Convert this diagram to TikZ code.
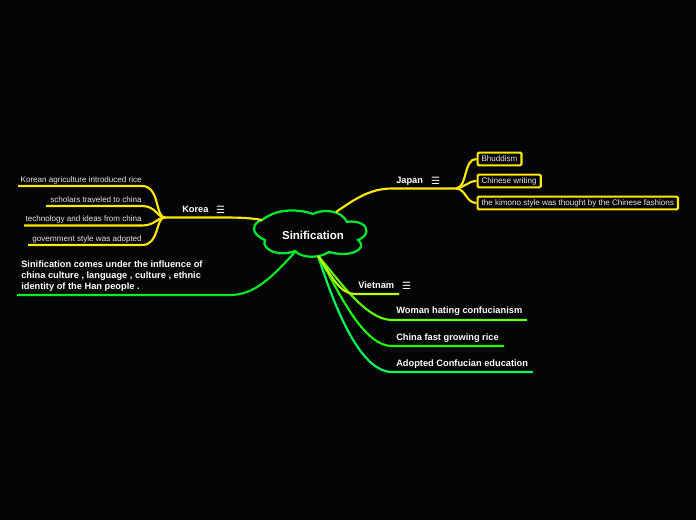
\documentclass[tikz,border=0pt]{standalone}
\usepackage{fontspec}
\setmainfont{Liberation Sans}
\newfontfamily\iconfont{DejaVu Sans}
\definecolor{bgblack}{HTML}{020406}
\definecolor{cloudgreen}{HTML}{00E632}
\definecolor{branchyellow}{HTML}{FFE800}
\definecolor{txtwhite}{HTML}{E8E8E8}
\tikzset{
  topic/.style={inner sep=0pt,text=white,font=\fontsize{6.95}{8}\selectfont\bfseries},
  small/.style={inner sep=0pt,text=txtwhite,font=\fontsize{6.05}{7}\selectfont},
  boxed/.style={small,draw=branchyellow,line width=1.6pt,rounded corners=1pt,inner xsep=3pt,inner ysep=1.6pt,text height=5.4pt,text depth=1pt,anchor=west},
  menu/.style={inner sep=0pt,text=white,font=\iconfont\fontsize{7.5}{8}\selectfont},
  ybranch/.style={draw=branchyellow,line width=1.6pt},
  gbranch/.style={line width=1.6pt},
}
\begin{document}
\begin{tikzpicture}[x=0.75pt,y=-0.75pt]
\useasboundingbox[fill=bgblack] (0,0) rectangle (696,520);
% centre cloud
\draw[cloudgreen,line width=1.7pt] (262,220)
  .. controls (270,214) and (280,210) .. (294,210.5)
  .. controls (302,211) and (308,212) .. (313,214)
  .. controls (320,210) and (340,208) .. (347,222)
  .. controls (358,220) and (367,225) .. (366.5,231)
  .. controls (366,236) and (362,238) .. (358,240)
  .. controls (366,246) and (358,254) .. (343,254)
  .. controls (338,254) and (333,253) .. (329,252)
  .. controls (320,258) and (303,259) .. (295,251)
  .. controls (285,255) and (272,254) .. (266,247)
  .. controls (264,245) and (264,242) .. (265,240)
  .. controls (258,237) and (254,233) .. (254,229)
  .. controls (254,224) and (258,221) .. (262,220) -- cycle;
\node[inner sep=0pt,text=white,font=\fontsize{8.6}{10}\selectfont\bfseries] (sinification) at (313,235.5) {Sinification};
\coordinate (cloudright) at (336,212);
\coordinate (cloudleft) at (262,220);
\coordinate (cloudlow) at (296,251);
\coordinate (cloudbottom) at (318,256);

% Japan
\coordinate (japanend) at (456,188.5);
\node[topic,anchor=base west] (japan) at (396,184) {Japan};
\node[menu] (japanmenu) at (435.5,180.5) {☰};
\draw[ybranch] (cloudright) .. controls (355,199) and (370,188.5) .. (392,188.5) -- (japanend);
\node[boxed] (bhuddism) at (476.5,159) {Bhuddism};
\node[boxed] (writing) at (476.5,181) {Chinese writing};
\node[boxed] (kimono) at (476.5,203) {the kimono style was thought by the Chinese fashions};
\draw[ybranch] (japanend) .. controls (468,187) and (463,159) .. (bhuddism.west);
\draw[ybranch] (japanend) .. controls (464,188) and (468,181) .. (writing.west);
\draw[ybranch] (japanend) .. controls (466,189) and (466,203) .. (kimono.west);

% Korea
\coordinate (koreaend) at (165,217.5);
\node[topic,anchor=base west] (korea) at (182,213) {Korea};
\node[menu] (koreamenu) at (220.5,209.5) {☰};
\draw[ybranch] (cloudleft) .. controls (248,217.5) and (235,217.5) .. (220,217.5) -- (koreaend);
\coordinate (agriend) at (18,186);
\coordinate (scholarend) at (46,206);
\coordinate (techend) at (24,225.5);
\coordinate (govend) at (28,245);
\node[small,anchor=base east] (agri) at (142,182.5) {Korean agriculture introduced rice};
\node[small,anchor=base east] (scholar) at (142,202.5) {scholars traveled to china};
\node[small,anchor=base east] (tech) at (142,221.5) {technology and ideas from china};
\node[small,anchor=base east] (gov) at (142,241.5) {government style was adopted};
\draw[ybranch] (koreaend) .. controls (155,217.5) and (160,186) .. (142,186) -- (agriend);
\draw[ybranch] (koreaend) .. controls (157,217.5) and (156,206) .. (142,206) -- (scholarend);
\draw[ybranch] (koreaend) .. controls (157,217.5) and (155,225.5) .. (142,225.5) -- (techend);
\draw[ybranch] (koreaend) .. controls (155,217.5) and (160,245) .. (142,245) -- (govend);

% long note
\node[topic,anchor=north west,align=left,font=\fontsize{6.95}{8}\selectfont\bfseries] (note) at (21,261) {Sinification comes under the influence of\\china culture , language , culture , ethnic\\identity of the Han people .};
\coordinate (noteend) at (17,295);
\draw[gbranch,draw=cloudgreen!70!green] (cloudlow) .. controls (272,277) and (255,295) .. (230,295) -- (noteend);

% Vietnam and the rest
\node[topic,anchor=base west] (vietnam) at (358,288.5) {Vietnam};
\node[menu] (vietnammenu) at (406.5,286) {☰};
\coordinate (vietnamend) at (399,294);
\coordinate (womanend) at (527,320);
\coordinate (riceend) at (504,346);
\coordinate (eduend) at (533,372);
\node[topic,anchor=base west] (woman) at (396,314) {Woman hating confucianism};
\node[topic,anchor=base west] (rice) at (396,340) {China fast growing rice};
\node[topic,anchor=base west] (edu) at (396,366) {Adopted Confucian education};
\draw[gbranch,draw={rgb,255:red,0;green,255;blue,90}] (cloudbottom) .. controls (328,285) and (355,372) .. (392,372) -- (eduend);
\draw[gbranch,draw={rgb,255:red,30;green,255;blue,0}] (cloudbottom) .. controls (334,280) and (360,346) .. (392,346) -- (riceend);
\draw[gbranch,draw={rgb,255:red,100;green,255;blue,0}] (cloudbottom) .. controls (337,277) and (365,320) .. (392,320) -- (womanend);
\draw[gbranch,draw={rgb,255:red,190;green,255;blue,0}] (cloudbottom) .. controls (332,277) and (340,294) .. (355,294) -- (vietnamend);
\end{tikzpicture}
\end{document}
